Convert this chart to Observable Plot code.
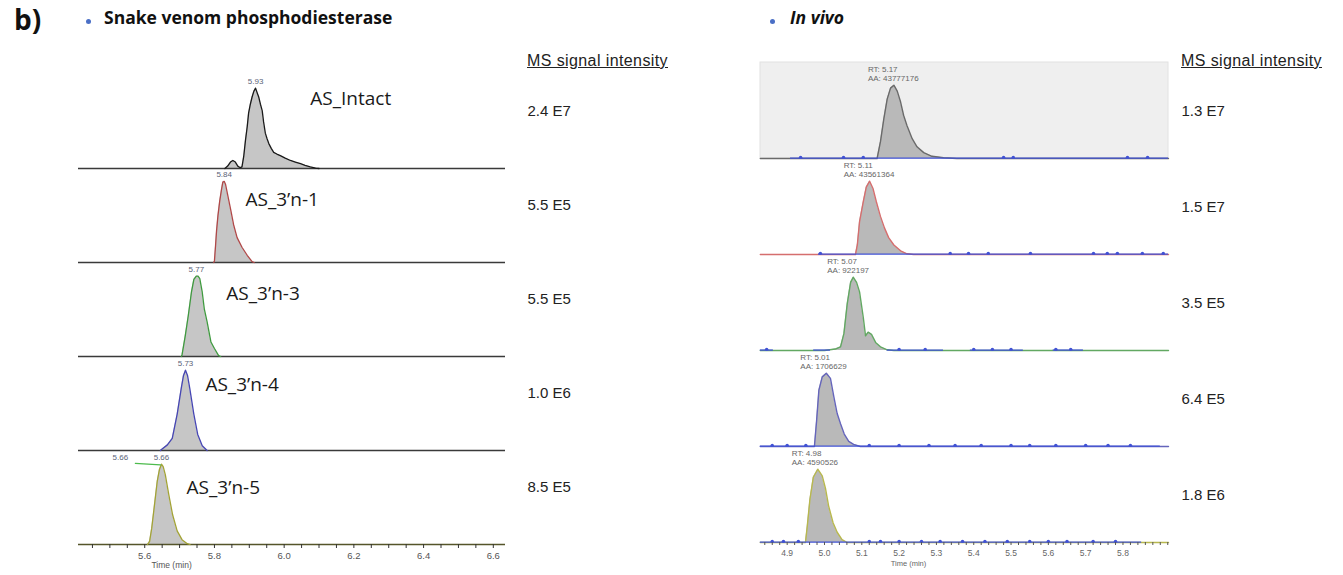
<!DOCTYPE html>
<html><head><meta charset="utf-8">
<script src="https://cdn.jsdelivr.net/npm/d3@7"></script>
<script src="https://cdn.jsdelivr.net/npm/@observablehq/plot@0.6"></script>
<style>
body{margin:0;background:#fff;width:1343px;height:575px;overflow:hidden;position:relative;}
.abs{position:absolute;white-space:nowrap;}
.hdr{font-family:"Open Sans";font-weight:bold;font-size:17.5px;color:#111;}
.ms{font-family:"Liberation Sans";font-size:16px;letter-spacing:0.4px;color:#222;text-decoration:underline;}
.dot{position:absolute;width:5px;height:5px;border-radius:50%;background:#4a6fc6;}
</style></head><body>
<div id="left" class="abs" style="left:0;top:0"></div>
<div id="right" class="abs" style="left:680px;top:0"></div>
<div class="abs" style="left:14px;top:0px;font-family:'Open Sans';font-weight:bold;font-size:28px;color:#111">b)</div>
<div class="dot" style="left:86px;top:19px"></div>
<div class="abs hdr" style="left:104px;top:5px">Snake venom phosphodiesterase</div>
<div class="dot" style="left:770px;top:19px"></div>
<div class="abs hdr" style="left:790px;top:5px;font-style:italic">In vivo</div>
<div class="abs ms" style="left:527px;top:52px">MS signal intensity</div>
<div class="abs ms" style="left:1181px;top:52px">MS signal intensity</div>
<script>
// ---------- data ----------
const leftNames = ["AS_Intact", "AS_3’n-1", "AS_3’n-3", "AS_3’n-4", "AS_3’n-5"];
const leftApexText = ["5.93", "5.84", "5.77", "5.73", "5.66"];
const leftSignal = ["2.4 E7", "5.5 E5", "5.5 E5", "1.0 E6", "8.5 E5"];
const rightSignal = ["1.3 E7", "1.5 E7", "3.5 E5", "6.4 E5", "1.8 E6"];
const rightRT = ["RT: 5.17", "RT: 5.11", "RT: 5.07", "RT: 5.01", "RT: 4.98"];
const rightAA = ["AA: 43777176", "AA: 43561364", "AA: 922197", "AA: 1706629", "AA: 4590526"];

const leftTicks = [5.6, 5.8, 6.0, 6.2, 6.4, 6.6];
const leftMinor = [5.45, 5.5, 5.55, 5.6, 5.65, 5.7, 5.75, 5.8, 5.85, 5.9, 5.95, 6.0, 6.05, 6.1, 6.15, 6.2, 6.25, 6.3, 6.35, 6.4, 6.45, 6.5, 6.55, 6.6];
const rightTicks = [4.9, 5.0, 5.1, 5.2, 5.3, 5.4, 5.5, 5.6, 5.7, 5.8];
const rightMinor = [4.84, 4.86, 4.88, 4.9, 4.92, 4.94, 4.96, 4.98, 5.0, 5.02, 5.04, 5.06, 5.08, 5.1, 5.12, 5.14, 5.16, 5.18, 5.2, 5.22, 5.24, 5.26, 5.28, 5.3, 5.32, 5.34, 5.36, 5.38, 5.4, 5.42, 5.44, 5.46, 5.48, 5.5, 5.52, 5.54, 5.56, 5.58, 5.6, 5.62, 5.64, 5.66, 5.68, 5.7, 5.72, 5.74, 5.76, 5.78, 5.8, 5.82, 5.84, 5.86, 5.88, 5.9, 5.92];

// left chromatograms: [time (min), relative intensity %]
const leftIntact = [[5.83,0],[5.838,3],[5.846,8],[5.853,10],[5.86,8],[5.867,3],[5.874,1],[5.879,2],[5.884,15],[5.889,35],[5.894,52],[5.898,69],[5.903,80],[5.908,89],[5.913,96],[5.918,100],[5.922,95],[5.927,89],[5.932,80],[5.937,72],[5.941,58],[5.946,44],[5.951,37],[5.956,31],[5.963,25],[5.97,20],[5.979,18],[5.989,16],[6.003,13],[6.018,10],[6.032,8],[6.047,6],[6.06,4],[6.075,2],[6.09,0.5],[6.1,0]];
const leftN1 = [[5.798,0],[5.8,2],[5.803,20],[5.806,39],[5.81,58],[5.815,76],[5.82,90],[5.824,100],[5.828,101],[5.832,97],[5.839,82],[5.846,67],[5.855,47],[5.865,31],[5.879,19],[5.894,9],[5.908,1],[5.914,0]];
const leftN3 = [[5.705,0],[5.707,2],[5.716,25],[5.725,51],[5.734,80],[5.741,96],[5.748,100],[5.753,100],[5.758,97],[5.765,80],[5.771,59],[5.779,43],[5.79,18],[5.8,10],[5.812,1],[5.818,0]];
const leftN4 = [[5.645,0],[5.65,2],[5.665,7],[5.679,15],[5.693,45],[5.705,78],[5.711,93],[5.717,100],[5.723,93],[5.729,78],[5.741,45],[5.752,20],[5.765,6],[5.779,0]];
const leftN5 = [[5.608,0],[5.614,4],[5.62,20],[5.626,42],[5.636,79],[5.642,93],[5.648,100],[5.653,97],[5.659,87],[5.669,62],[5.68,37],[5.693,17],[5.707,6],[5.722,1],[5.73,0]];
const leftN5Trail = [[5.573,101],[5.645,99]];
const leftN5ExtraLabel = [[5.53, 101, "5.66"]];

// right chromatograms (in vivo)
const rightR1 = [[4.828,0],[5.141,0],[5.15,23],[5.159,54],[5.168,81],[5.177,96],[5.186,100],[5.195,92],[5.204,77],[5.212,59],[5.221,45],[5.235,27],[5.248,16],[5.266,8],[5.288,3],[5.319,1],[5.355,0],[5.922,0]];
const rightR2 = [[4.828,0],[5.083,0],[5.088,13],[5.094,45],[5.104,72],[5.112,92],[5.121,100],[5.13,90],[5.139,72],[5.15,52],[5.161,36],[5.172,23],[5.186,13],[5.204,5],[5.221,1],[5.239,0],[5.922,0]];
const rightR3 = [[4.828,0],[5.0,0],[5.029,2],[5.043,5],[5.052,23],[5.061,64],[5.07,93],[5.077,100],[5.086,93],[5.094,80],[5.104,45],[5.11,20],[5.117,25],[5.126,22],[5.137,11],[5.15,5],[5.168,1],[5.186,0],[5.922,0]];
const rightR4 = [[4.828,0],[4.973,0],[4.979,36],[4.985,77],[4.994,95],[5.005,100],[5.016,93],[5.025,68],[5.034,45],[5.043,31],[5.053,17],[5.065,7],[5.078,3],[5.096,0],[5.922,0]];
const rightR5 = [[4.828,0],[4.949,0],[4.954,23],[4.961,59],[4.97,89],[4.982,100],[4.994,91],[5.003,73],[5.011,50],[5.023,27],[5.034,14],[5.047,4],[5.061,0],[5.922,0]];

// blue noise trace segments [row, start, end] and small bumps [row, time]
const rightNoiseSeg = [[0,4.909,5.922],[1,4.984,5.922],[2,4.828,4.863],[2,4.971,5.016],[2,5.168,5.319],[2,5.391,5.533],[2,5.613,5.694],[3,4.828,5.90],[4,4.828,5.85]];
const rightBumps = [
  [0,4.936],[0,5.051],[0,5.104],[0,5.48],[0,5.506],[0,5.812],[0,5.866],
  [1,4.989],[1,5.337],[1,5.386],[1,5.439],[1,5.552],[1,5.721],[1,5.758],[1,5.785],[1,5.852],[1,5.908],
  [2,4.845],[2,5.2],[2,5.27],[2,5.4],[2,5.45],[2,5.5],[2,5.62],[2,5.66],
  [3,4.86],[3,4.9],[3,4.95],[3,5.12],[3,5.2],[3,5.28],[3,5.35],[3,5.42],[3,5.5],[3,5.55],[3,5.62],[3,5.7],[3,5.76],[3,5.82],
  [4,4.86],[4,4.89],[4,4.93],[4,5.12],[4,5.15],[4,5.2],[4,5.26],[4,5.31],[4,5.37],[4,5.43],[4,5.49],[4,5.55],[4,5.6],[4,5.65],[4,5.72],[4,5.78]
];

// label anchors for compound names [time, intensity]
const leftNameAt = [[6.075,87],[5.889,78],[5.834,78],[5.774,82],[5.72,70]];
const leftAxisLabelAt = 5.677;
const rightAxisLabelAt = 5.225;

// ---------- styles ----------
const leftColors = ["#1a1a1a", "#b04848", "#3f9a3f", "#4646b4", "#a3a336"];
const leftBaseColors = ["#3a3a3a", "#3a3a3a", "#3a3a3a", "#3a3a3a", "#55552a"];
const rightColors = ["#6a6a6a", "#d56e6e", "#62a862", "#6565bb", "#b8b84e"];

// ---------- tables ----------
const rows = [0,1,2,3,4];
const leftTraces = [leftIntact, leftN1, leftN3, leftN4, leftN5];
const rightTraces = [rightR1, rightR2, rightR3, rightR4, rightR5];
const toTable = trs => trs.flatMap((tr,row) => tr.map(([t,h]) => ({row, t, h})));
const apexOf = trs => trs.map((tr,row) => { const m = tr.reduce((a,b) => b[1] > a[1] ? b : a); return {row, t: m[0], h: m[1]}; });
const leftData = toTable(leftTraces);
const rightData = toTable(rightTraces);
const leftApex = apexOf(leftTraces).map(d => ({...d, label: leftApexText[d.row]}));
const rightApex = apexOf(rightTraces).map(d => ({...d, label: rightRT[d.row] + "\n" + rightAA[d.row]}));

// ---------- left panel ----------
const left = Plot.plot({
  width: 720, height: 575,
  marginLeft: 78, marginRight: 215, marginTop: 74, marginBottom: 31,
  style: {fontFamily: "Liberation Sans", background: "transparent", overflow: "visible"},
  x: {domain: [5.41, 6.635], label: null},
  y: {domain: [0, 117], axis: null},
  fy: {domain: rows, padding: 0, axis: null},
  color: {type: "identity"},
  marks: [
    Plot.areaY(leftData, {x: "t", y: "h", fy: "row", z: "row", fill: "#c6c6c6"}),
    Plot.ruleY(rows, {y: () => 0, fy: d => d, stroke: d => leftBaseColors[d], strokeWidth: 1.6}),
    Plot.lineY(leftData, {x: "t", y: "h", fy: "row", z: "row", stroke: d => leftColors[d.row], strokeWidth: 1.3}),
    Plot.line(leftN5Trail, {x: d => d[0], y: d => d[1], fy: () => 4, stroke: "#4dbb4d", strokeWidth: 1.2}),
    Plot.axisX({ticks: leftMinor, tickFormat: () => "", tickSize: 4, stroke: "#333", label: null}),
    Plot.axisX({ticks: leftTicks, tickSize: 0, tickPadding: 8, fontSize: 9.5, fill: "#555", label: null, tickFormat: d3.format(".1f")}),
    Plot.text(["Time (min)"], {x: () => leftAxisLabelAt, fy: () => 4, frameAnchor: "bottom", dy: 23, fontSize: 8.5, fill: "#555", text: d => d}),
    Plot.text(leftApex, {x: "t", y: "h", fy: "row", text: "label", dy: -7, fontSize: 8, fill: "#5a6478"}),
    Plot.text(leftN5ExtraLabel, {x: d => d[0], y: d => d[1], fy: () => 4, text: d => d[2], dy: -6, fontSize: 8, fill: "#5a6478"}),
    Plot.text(leftNames, {x: (d,i) => leftNameAt[i][0], y: (d,i) => leftNameAt[i][1], fy: (d,i) => i, text: d => d, textAnchor: "start", fontSize: 19, fontFamily: "Open Sans", fill: "#1a1a1a"}),
    Plot.text(leftSignal, {fy: (d,i) => i, text: d => d, frameAnchor: "top-right", dx: 22, dy: 31, textAnchor: "start", fontSize: 15, fill: "#222"})
  ]
});
document.getElementById("left").append(left);

// ---------- right panel ----------
const right = Plot.plot({
  width: 663, height: 575,
  marginLeft: 80, marginRight: 175, marginTop: 60, marginBottom: 32,
  style: {fontFamily: "Liberation Sans", background: "transparent", overflow: "visible"},
  x: {domain: [4.8285, 5.922], label: null},
  y: {domain: [0, 131], axis: null},
  fy: {domain: rows, padding: 0, axis: null},
  color: {type: "identity"},
  marks: [
    Plot.rect([0], {fy: d => d, fill: "#efefef", stroke: "#e2e2e2"}),
    Plot.areaY(rightData, {x: "t", y: "h", fy: "row", z: "row", fill: "#b9b9b9"}),
    Plot.lineY(rightData, {x: "t", y: "h", fy: "row", z: "row", stroke: d => rightColors[d.row], strokeWidth: 1.4}),
    Plot.ruleY(rightNoiseSeg, {fy: d => d[0], x1: d => d[1], x2: d => d[2], y: () => 0.6, stroke: "#4152d4", strokeWidth: 1.3}),
    Plot.dot(rightBumps, {fy: d => d[0], x: d => d[1], y: () => 1.6, r: 1.7, fill: "#4152d4", stroke: "none"}),
    Plot.axisX({ticks: rightMinor, tickFormat: () => "", tickSize: 3, stroke: "#555", label: null}),
    Plot.axisX({ticks: rightTicks, tickSize: 0, tickPadding: 7, fontSize: 8.5, fill: "#666", label: null, tickFormat: d3.format(".1f")}),
    Plot.text(["Time (min)"], {x: () => rightAxisLabelAt, fy: () => 4, frameAnchor: "bottom", dy: 23, fontSize: 7.5, fill: "#666", text: d => d}),
    Plot.text(rightApex, {x: "t", y: "h", fy: "row", text: "label", dx: -26, dy: -4, lineAnchor: "bottom", textAnchor: "start", fontSize: 8, fill: "#666", lineHeight: 1.1}),
    Plot.text(rightSignal, {fy: (d,i) => i, text: d => d, frameAnchor: "top-right", dx: 13, dy: 43, textAnchor: "start", fontSize: 15, fill: "#222"})
  ]
});
document.getElementById("right").append(right);
</script>
</body></html>
